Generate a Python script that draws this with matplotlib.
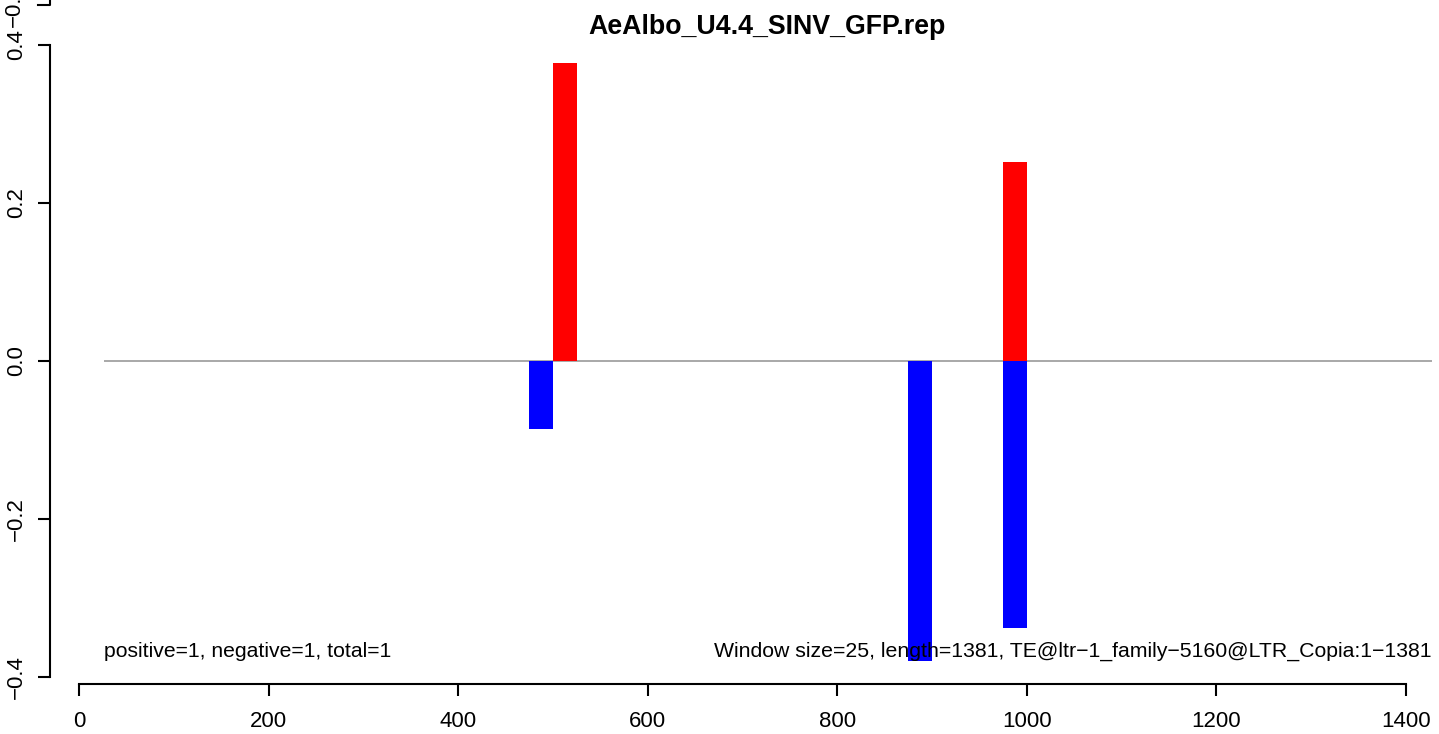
import matplotlib
matplotlib.use("Agg")
import matplotlib.pyplot as plt
from matplotlib.lines import Line2D

plt.rcParams['font.family'] = ['Liberation Sans', 'DejaVu Sans']

# windows (start, end) and values
pos_start = [500, 975]
pos_val = [0.377, 0.252]
neg_start = [475, 875, 975]
neg_val = [-0.086, -0.380, -0.338]
win = 25

title = "AeAlbo_U4.4_SINV_GFP.rep"
left_txt = "positive=1, negative=1, total=1"
right_txt = "Window size=25, length=1381, TE@ltr\u22121_family\u22125160@LTR_Copia:1\u22121381"
xticks = [0, 200, 400, 600, 800, 1000, 1200, 1400]
yticks = [-0.4, -0.2, 0.0, 0.2, 0.4]

W, H = 1439, 734
px = 72 / 100  # points per pixel
fig = plt.figure(figsize=(W / 100, H / 100), dpi=100)
ax = fig.add_axes([79 / W, 1 - 677 / H, (1406 - 79) / W, (677 - 45) / H])
ax.set_xlim(0, 1400)
ax.set_ylim(-0.4, 0.4)

ax.hlines(0, 26, 1427, color='#999999', lw=1.2, clip_on=False, zorder=1)
ax.bar(pos_start, pos_val, width=win, align='edge', color='red', lw=0, zorder=2)
ax.bar(neg_start, neg_val, width=win, align='edge', color='blue', lw=0, zorder=2)

ax.text(26, -0.368, left_txt, fontsize=15.2, ha='left', va='center')
ax.text(1427, -0.368, right_txt, fontsize=15.3, ha='right', va='center')

for s in ['top', 'right']:
    ax.spines[s].set_visible(False)
ax.spines['left'].set_position(('outward', 29 * px))
ax.spines['bottom'].set_position(('outward', 7 * px))
ax.spines['left'].set_bounds(-0.4, 0.4)
ax.spines['bottom'].set_bounds(0, 1400)
for s in ['left', 'bottom']:
    ax.spines[s].set_linewidth(1.5)

ax.set_xticks(xticks)
ax.set_xticklabels([str(t) for t in xticks])
ax.set_yticks(yticks)
ax.set_yticklabels(["\u22120.4", "\u22120.2", "0.0", "0.2", "0.4"], rotation=90, va='center')
ax.tick_params(axis='both', length=12 * px, width=1.5, labelsize=16)
ax.tick_params(axis='x', pad=15 * px)
ax.tick_params(axis='y', pad=11 * px)

# piece of the axis from the panel above
fig.add_artist(Line2D([38 / W, 50 / W, 50 / W], [1 - 5 / H, 1 - 5 / H, 1.0],
                      color='black', lw=1.5))
fig.text(14 / W, 1 - 5 / H, "\u22120.4", rotation=90, fontsize=16,
         ha='center', va='center')

fig.text(767 / W, 1 - 27 / H, title, fontsize=19.3, fontweight='bold',
         ha='center', va='center')

fig.savefig("out.png", dpi=100)
